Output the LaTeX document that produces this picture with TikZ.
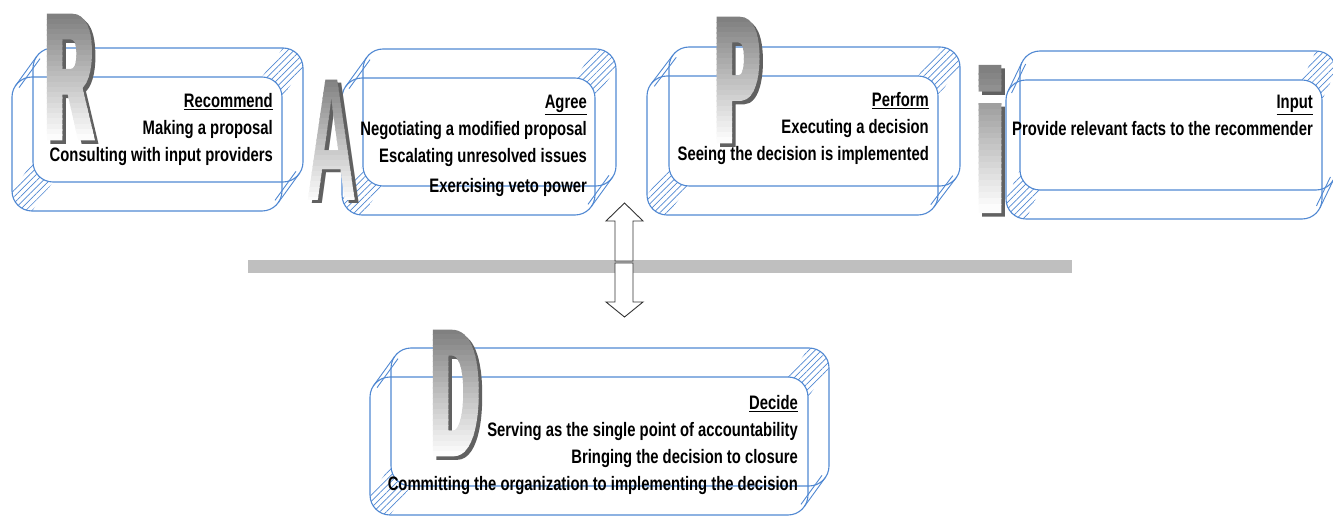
\documentclass[tikz,border=0pt]{standalone}
\usepackage{fontspec}
\usetikzlibrary{patterns.meta}
\newfontfamily\rolefont{Liberation Sans Bold}[FakeStretch=0.76]
\newfontfamily\bigfont{Liberation Sans Bold}[FakeStretch=0.37, FakeBold=3.5]
\newfontfamily\bigafont{Liberation Sans Bold}[FakeStretch=0.4]
\newfontfamily\bigifont{Liberation Sans Bold}[FakeStretch=0.6, FakeBold=3.5]
\definecolor{boxblue}{RGB}{80,136,210}
\definecolor{bargray}{RGB}{191,191,191}

\begin{document}
\begin{tikzpicture}[x=1pt, y=-1pt,
  face/.style={draw=boxblue, line width=1.1pt, rounded corners=20pt},
  hatch/.style={pattern={Lines[angle=45,distance=4.5pt,line width=0.7pt]}, pattern color=boxblue},
  rim/.style={draw=boxblue, line width=0.9pt},
  role text/.style={anchor=north east, align=right, inner sep=0pt,
    font=\rolefont\fontsize{19.5}{27}\selectfont},
  big letter/.style={inner sep=0pt, font=\bigfont\fontsize{175}{175}\selectfont},
  big a/.style={inner sep=0pt, font=\bigafont\fontsize{175}{175}\selectfont},
  big i/.style={inner sep=0pt, font=\bigifont\fontsize{195}{195}\selectfont},
  hollow/.style={draw=black!80, fill=white, line width=0.9pt}]

  \useasboundingbox (0,0) rectangle (1333,529);

  % the five prisms: offset, front face x1/y1/x2/y2
  \foreach \dx/\xa/\ya/\xb/\yb in {21/12/77/282/211, 21/342/78/595/215,
      22/647/76/938/215, 14/1006/80/1322/219, 21/370/377/808/515}{
    \fill[hatch] ({\xb-20},\ya) .. controls ({\xb-9},\ya) and (\xb,{\ya+9}) .. (\xb,{\ya+20})
      -- ({\xb+\dx},{\ya-9}) .. controls ({\xb+\dx},{\ya-20}) and ({\xb+\dx-9},{\ya-29}) .. ({\xb+\dx-20},{\ya-29}) -- cycle;
    \fill[hatch] (\xa,{\yb-20}) .. controls (\xa,{\yb-9}) and ({\xa+9},\yb) .. ({\xa+20},\yb)
      -- ({\xa+20+\dx},{\yb-29}) .. controls ({\xa+9+\dx},{\yb-29}) and ({\xa+\dx},{\yb-38}) .. ({\xa+\dx},{\yb-49}) -- cycle;
    \draw[face] (\xa,\ya) rectangle (\xb,\yb);
    \draw[face, shift={(\dx,-29)}] (\xa,\ya) rectangle (\xb,\yb);
    \pgfmathsetmacro\nx{29/veclen(\dx,29)}
    \pgfmathsetmacro\ny{\dx/veclen(\dx,29)}
    \foreach \rr in {20,16}{
      \draw[rim] ({\xa+20-\rr*\nx},{\ya+20-\rr*\ny}) -- ++(\dx,-29);
      \draw[rim] ({\xb-20+\rr*\nx},{\yb-20+\rr*\ny}) -- ++(\dx,-29);
    }
  }

  % bar and double arrow
  \fill[bargray] (248,260) rectangle (1072,273);
  \draw[hollow] (615,261) -- (615,221) -- (606,221) -- (624.5,203) -- (643,221) -- (633,221) -- (633,261) -- cycle;
  \draw[hollow] (615,263) -- (615,302) -- (606,302) -- (624.5,317) -- (643,302) -- (633,302) -- (633,263) -- cycle;

  % big shaded letters
  \foreach \lx/\ly/\lh/\lt/\ls in {69/77/63/R/big letter, 332/140/63/A/big a,
      737/80/63/P/big letter, 455/393/64/D/big letter, 990/139/71/i/big i}{
    \node[\ls, text=black!62] (shadow \lt) at ({\lx+3.5},{\ly+3.5}) {\lt};
    \foreach \k in {0,...,23}{
      \begin{scope}
        \pgfmathsetmacro\shadepct{50-49*\k/23}
        \clip ({\lx-60},{\ly-\lh+\k*2*\lh/24-(\k==0)*20}) rectangle ({\lx+60},{\ly-\lh+(\k+1)*2*\lh/24+0.6+(\k==23)*20});
        \node[\ls, text=black!\shadepct] at (\lx,\ly) {\lt};
      \end{scope}
    }
  }

  % texts
  \node[role text] (r) at (273,93) {\underline{Recommend}\\Making a proposal\\Consulting with input providers};
  \node[role text] (a) at (587,95) {\underline{Agree}\\Negotiating a modified proposal\\Escalating unresolved issues\\[3pt]Exercising veto power};
  \node[role text] (p) at (929,92) {\underline{Perform}\\Executing a decision\\Seeing the decision is implemented};
  \node[role text] (i) at (1313,95) {\underline{Input}\\Provide relevant facts to the recommender};
  \node[role text] (d) at (798,395) {\underline{Decide}\\Serving as the single point of accountability\\Bringing the decision to closure\\Committing the organization to implementing the decision};
\end{tikzpicture}
\end{document}
